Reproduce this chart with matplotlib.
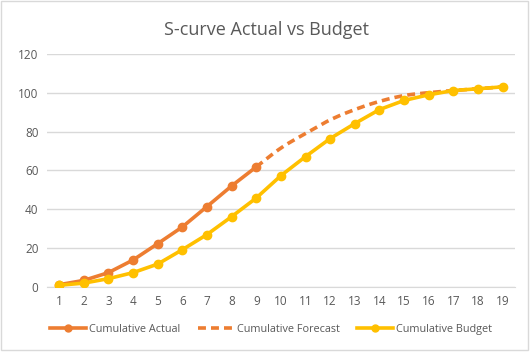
import numpy as np
import matplotlib
matplotlib.use("Agg")
import matplotlib.pyplot as plt
from matplotlib.patches import Rectangle
from matplotlib.lines import Line2D

periods = list(range(1, 20))
actual = [1.2, 3.4, 7.4, 13.9, 22.3, 30.9, 41.4, 52.0, 61.8]
forecast = [61.8, 71.5, 79.0, 86.0, 91.3, 95.5, 98.5, 100.0, 101.1, 102.0, 103.0]
budget = [0.9, 2.0, 4.3, 7.4, 11.8, 19.2, 27.0, 36.2, 45.8, 57.3,
          67.1, 76.4, 84.1, 91.3, 96.0, 98.9, 101.1, 102.0, 103.0]
y_ticks = [0, 20, 40, 60, 80, 100, 120]

ORANGE = "#ED7D31"
GOLD = "#FFC000"
GREY = "#595959"
FONT = "Open Sans"


def smooth(xs, ys, n=20):
    # Catmull-Rom style smoothing, the way the spreadsheet draws a "smoothed line"
    xs = np.asarray(xs, float)
    ys = np.asarray(ys, float)
    px = np.concatenate([[2 * xs[0] - xs[1]], xs, [2 * xs[-1] - xs[-2]]])
    py = np.concatenate([[2 * ys[0] - ys[1]], ys, [2 * ys[-1] - ys[-2]]])
    out_x, out_y = [], []
    t = np.linspace(0, 1, n, endpoint=False)
    for i in range(1, len(px) - 2):
        for arr, out in ((px, out_x), (py, out_y)):
            p0, p1, p2, p3 = arr[i - 1], arr[i], arr[i + 1], arr[i + 2]
            out.extend(0.5 * (2 * p1 + (-p0 + p2) * t
                              + (2 * p0 - 5 * p1 + 4 * p2 - p3) * t ** 2
                              + (-p0 + 3 * p1 - 3 * p2 + p3) * t ** 3))
    out_x.append(xs[-1])
    out_y.append(ys[-1])
    return out_x, out_y


fig = plt.figure(figsize=(5.32, 3.55), dpi=100)
ax = fig.add_axes([0.088, 0.1915, 0.88, 0.657])

# chart border
fig.patches.append(Rectangle((1 / 532, 5 / 355), 527 / 532, 349 / 355,
                             transform=fig.transFigure, fill=False,
                             edgecolor="#D9D9D9", linewidth=1))

fx, fy = smooth(periods[8:], forecast)
ax.plot(fx, fy, color=ORANGE, linewidth=2.6, linestyle=(0, (2.2, 1.4)),
        solid_capstyle="butt", zorder=2)
ax.plot(periods[:9], actual, color=ORANGE, linewidth=2.6, marker="o",
        markersize=6, zorder=3)
ax.plot(periods, budget, color=GOLD, linewidth=2.6, marker="o",
        markersize=6, zorder=4)

ax.set_xlim(0.5, 19.5)
ax.set_ylim(0, 120)
ax.set_xticks(periods)
ax.set_yticks(y_ticks)
ax.tick_params(length=0, labelsize=8.5, labelcolor=GREY, pad=6)
for lab in ax.get_xticklabels() + ax.get_yticklabels():
    lab.set_family(FONT)
ax.grid(axis="y", color="#D9D9D9", linewidth=1)
ax.set_axisbelow(True)
for side in ["top", "right", "left"]:
    ax.spines[side].set_visible(False)
ax.spines["bottom"].set_color("#D9D9D9")

fig.text(0.5, 0.915, "S-curve Actual vs Budget", ha="center", va="center",
         fontsize=13, color=GREY, family=FONT)

handles = [
    Line2D([], [], color=ORANGE, linewidth=2.6, marker="o", markersize=5),
    Line2D([], [], color=ORANGE, linewidth=2.6, linestyle=(0, (2.2, 1.4))),
    Line2D([], [], color=GOLD, linewidth=2.6, marker="o", markersize=5),
]
labels = ["Cumulative Actual", "Cumulative Forecast", "Cumulative Budget"]
leg = fig.legend(handles, labels, loc="center", bbox_to_anchor=(0.51, 0.073),
                 ncol=3, frameon=False, handlelength=3.3,
                 handletextpad=0.3, columnspacing=1.6,
                 prop={"family": FONT, "size": 7.8})
for t in leg.get_texts():
    t.set_color(GREY)

fig.savefig("out.png", dpi=100)
